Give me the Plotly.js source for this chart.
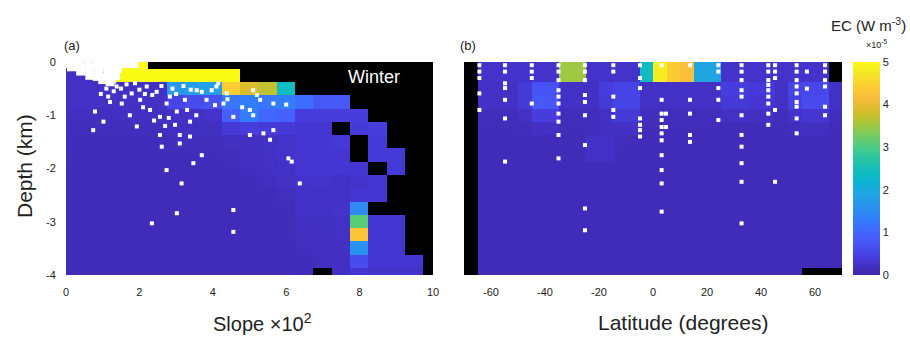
<!DOCTYPE html>
<html><head><meta charset="utf-8">
<script src="https://cdn.plot.ly/plotly-3.0.1.min.js"></script>
<style>html,body{margin:0;padding:0;background:#fff}#chart{width:910px;height:344px}</style>
</head><body><div id="chart"></div>
<script>
// ---- data ----
const slopeCenters = [0,0.5,1,1.5,2,2.5,3,3.5,4,4.5,5,5.5,6,6.5,7,7.5,8,8.5,9,9.5,10];
const elevCenters = [0,-0.25,-0.5,-0.75,-1,-1.25,-1.5,-1.75,-2,-2.25,-2.5,-2.75,-3,-3.25,-3.5,-3.75,-4];
const latCenters = [-67.5,-62.5,-57.5,-52.5,-47.5,-42.5,-37.5,-32.5,-27.5,-22.5,-17.5,-12.5,-7.5,-2.5,2.5,7.5,12.5,17.5,22.5,27.5,32.5,37.5,42.5,47.5,52.5,57.5,62.5,67.5];

// EC (x1e-5 W m^-3) binned by slope (columns) and depth (rows)
const ecSlope = [
 [0.2,0.2,5,5,5,null,null,null,null,null,null,null,null,null,null,null,null,null,null,null,null],
 [0.2,0.2,0.2,5,5,5,5,5,5,5,null,null,null,null,null,null,null,null,null,null,null],
 [0.2,0.2,0.2,0.2,0.2,0.2,1.7,1.8,1.8,4.4,3.9,3.7,2.4,null,null,null,null,null,null,null,null],
 [0.2,0.2,0.2,0.2,0.2,0.2,0.5,0.6,0.7,1.2,1.3,1.2,1.3,1.1,0.8,0.8,null,null,null,null,null],
 [0.16,0.16,0.16,0.18,0.18,0.18,0.2,0.2,0.25,0.9,1.3,1.0,0.9,0.4,0.4,0.4,0.4,null,null,null,null],
 [0.15,0.15,0.15,0.15,0.15,0.15,0.18,0.18,0.18,0.35,0.4,0.35,0.35,0.3,0.3,null,0.35,0.4,null,null,null],
 [0.14,0.14,0.14,0.14,0.14,0.14,0.15,0.15,0.15,0.18,0.18,0.2,0.25,0.3,0.3,0.35,null,0.35,null,null,null],
 [0.13,0.13,0.13,0.13,0.13,0.13,0.14,0.14,0.14,0.15,0.16,0.2,0.25,0.3,0.3,0.3,null,0.35,0.35,null,null],
 [0.13,0.13,0.13,0.13,0.13,0.13,0.13,0.13,0.14,0.14,0.16,0.2,0.22,0.3,0.3,0.3,0.3,null,0.35,null,null],
 [0.12,0.12,0.12,0.12,0.12,0.12,0.12,0.12,0.12,0.13,0.14,0.16,0.2,0.25,0.25,0.2,0.25,0.3,null,null,null],
 [0.12,0.12,0.12,0.12,0.12,0.12,0.12,0.12,0.12,0.12,0.13,0.14,0.16,0.22,0.2,0.2,0.3,0.3,null,null,null],
 [0.12,0.12,0.12,0.12,0.12,0.12,0.12,0.12,0.12,0.12,0.12,0.13,0.14,0.2,0.2,0.25,1.5,null,null,null,null],
 [0.12,0.12,0.12,0.12,0.12,0.12,0.12,0.12,0.12,0.12,0.12,0.12,0.13,0.18,0.18,0.2,3.1,0.3,0.3,null,null],
 [0.12,0.12,0.12,0.12,0.12,0.12,0.12,0.12,0.12,0.12,0.12,0.12,0.13,0.16,0.18,0.2,4.3,0.3,0.3,null,null],
 [0.12,0.12,0.12,0.12,0.12,0.12,0.12,0.12,0.12,0.12,0.12,0.12,0.12,0.16,0.16,0.18,1.6,0.3,0.3,null,null],
 [0.12,0.12,0.12,0.12,0.12,0.12,0.12,0.12,0.12,0.12,0.12,0.12,0.12,0.14,0.16,0.18,0.6,0.3,0.3,0.3,null],
 [0.12,0.12,0.12,0.12,0.12,0.12,0.12,0.12,0.12,0.12,0.12,0.12,0.12,0.14,null,0.18,0.3,0.25,0.25,0.25,null]
];

// EC binned by latitude (columns) and depth (rows)
const ecLat = [
 [null,0.25,0.25,0.25,0.25,0.25,0.25,3.5,3.5,0.25,0.25,0.25,0.25,2.4,4.8,4.4,4.2,1.9,1.9,0.25,0.25,0.25,0.25,0.25,0.25,0.25,0.25,null],
 [null,0.25,0.25,0.25,0.25,0.25,0.25,3.5,3.5,0.25,0.25,0.25,0.25,2.4,4.8,4.4,4.2,1.9,1.9,0.25,0.25,0.25,0.25,0.25,0.25,0.25,0.25,null],
 [null,0.2,0.2,0.2,0.35,0.7,0.7,0.2,0.2,0.2,0.4,0.5,0.5,0.2,0.2,0.2,0.2,0.2,0.2,0.4,0.4,0.35,0.35,0.2,0.5,0.55,0.55,0.2],
 [null,0.2,0.2,0.2,0.35,0.8,0.75,0.2,0.2,0.2,0.35,0.5,0.5,0.2,0.2,0.2,0.2,0.2,0.2,0.35,0.35,0.3,0.3,0.2,0.45,0.6,0.6,0.2],
 [null,0.15,0.15,0.15,0.2,0.4,0.4,0.15,0.15,0.15,0.2,0.35,0.35,0.15,0.15,0.15,0.15,0.15,0.15,0.2,0.2,0.18,0.18,0.15,0.25,0.3,0.3,0.15],
 [null,0.13,0.13,0.13,0.15,0.2,0.2,0.13,0.13,0.15,0.18,0.2,0.2,0.13,0.13,0.13,0.13,0.13,0.13,0.13,0.13,0.13,0.13,0.13,0.15,0.18,0.18,0.13],
 [null,0.12,0.12,0.12,0.13,0.13,0.12,0.12,0.13,0.22,0.22,0.15,0.13,0.12,0.12,0.12,0.12,0.12,0.12,0.12,0.12,0.12,0.12,0.12,0.12,0.13,0.13,0.12],
 [null,0.12,0.12,0.12,0.12,0.12,0.12,0.12,0.13,0.2,0.2,0.14,0.12,0.12,0.12,0.12,0.12,0.12,0.12,0.12,0.12,0.12,0.12,0.12,0.12,0.12,0.12,0.12],
 [null,0.12,0.12,0.12,0.12,0.12,0.12,0.12,0.12,0.14,0.14,0.12,0.12,0.12,0.12,0.12,0.12,0.12,0.12,0.12,0.12,0.12,0.12,0.12,0.12,0.12,0.12,0.12],
 [null,0.12,0.12,0.12,0.12,0.12,0.12,0.12,0.12,0.12,0.12,0.12,0.12,0.12,0.12,0.12,0.12,0.12,0.12,0.12,0.12,0.12,0.12,0.12,0.12,0.12,0.12,0.12],
 [null,0.12,0.12,0.12,0.12,0.12,0.12,0.12,0.12,0.12,0.12,0.12,0.12,0.12,0.12,0.12,0.12,0.12,0.12,0.12,0.12,0.12,0.12,0.12,0.12,0.12,0.12,0.12],
 [null,0.12,0.12,0.12,0.12,0.12,0.12,0.12,0.12,0.12,0.12,0.12,0.12,0.12,0.12,0.12,0.12,0.12,0.12,0.12,0.12,0.12,0.12,0.12,0.12,0.12,0.12,0.12],
 [null,0.12,0.12,0.12,0.12,0.12,0.12,0.12,0.12,0.12,0.12,0.12,0.12,0.12,0.12,0.12,0.12,0.12,0.12,0.12,0.12,0.12,0.12,0.12,0.12,0.12,0.12,0.12],
 [null,0.12,0.12,0.12,0.12,0.12,0.12,0.12,0.12,0.12,0.12,0.12,0.12,0.12,0.12,0.12,0.12,0.12,0.12,0.12,0.12,0.12,0.12,0.12,0.12,0.12,0.12,0.12],
 [null,0.12,0.12,0.12,0.12,0.12,0.12,0.12,0.12,0.12,0.12,0.12,0.12,0.12,0.12,0.12,0.12,0.12,0.12,0.12,0.12,0.12,0.12,0.12,0.12,0.12,0.12,0.12],
 [null,0.12,0.12,0.12,0.12,0.12,0.12,0.12,0.12,0.12,0.12,0.12,0.12,0.12,0.12,0.12,0.12,0.12,0.12,0.12,0.12,0.12,0.12,0.12,0.12,0.12,0.12,0.12],
 [null,0.12,0.12,0.12,0.12,0.12,0.12,0.12,0.12,0.12,0.12,0.12,0.12,0.12,0.12,0.12,0.12,0.12,0.12,0.12,0.12,0.12,0.12,0.12,0.12,null,null,null]
];

// observation points, panel (a): slope x100, elevation (km)
const obsSlope = [0.79,0.74,1.02,1.15,1.2,1.38,1.52,1.74,1.79,1.93,1.88,2.02,2.2,2.29,2.47,2.56,2.56,2.61,2.74,2.83,2.97,3.1,3.1,3.02,3.24,3.38,3.38,3.47,3.7,3.56,3.83,4.06,4.1,4.29,4.38,4.56,5.01,5.1,5.01,5.38,5.56,5.65,6.06,6.15,5.29,2.74,3.15,3.02,2.34,4.56,4.56,6.37,4.15,4.4,5.1,5.2,5.65,6.0,3.4,3.7,3.97,1.5,1.65,2.0,2.35,2.6,2.9,3.2,1.3,1.1,2.1,2.4,2.8,3.3,1.6,0.95,2.15,3.0,3.55,4.8,2.7];
const obsSlopeElev = [-0.93,-1.28,-1.12,-0.65,-0.75,-0.46,-0.78,-1.0,-0.59,-1.21,-0.4,-0.71,-0.46,-0.9,-0.56,-1.03,-1.37,-1.59,-0.78,-0.65,-1.18,-1.37,-1.53,-0.93,-0.71,-1.4,-1.12,-1.9,-1.75,-0.53,-0.71,-0.81,-0.46,-0.78,-0.59,-1.03,-0.9,-0.53,-1.37,-1.34,-1.46,-1.28,-1.81,-1.87,-0.71,-2.03,-2.28,-2.84,-3.03,-2.78,-3.19,-2.28,-0.4,-0.7,-1.0,-0.62,-0.78,-0.8,-0.52,-0.56,-0.53,-0.5,-0.42,-0.52,-0.62,-0.45,-0.5,-0.45,-0.55,-0.5,-0.85,-1.1,-1.05,-0.9,-0.65,-0.6,-0.6,-0.6,-1.0,-0.85,-1.2];
// densely sampled shelf points near the top-left corner
const shelfSlope = [0.1,0.35,0.6,0.85,1.1,1.35,1.6,1.85,0.15,0.4,0.65,0.9,1.15,1.4,0.4,0.65,0.9,1.15,1.35,0.65,0.85,1.05,1.25,1.0,1.2];
const shelfElev = [-0.03,-0.03,-0.03,-0.03,-0.03,-0.03,-0.03,-0.03,-0.09,-0.1,-0.1,-0.1,-0.1,-0.12,-0.17,-0.18,-0.2,-0.22,-0.25,-0.25,-0.27,-0.29,-0.32,-0.33,-0.37];

// observation points, panel (b): latitude, elevation (km)
const obsLat = [-64.3,-64.3,-64.3,-64.3,-64.3,
 -54.8,-54.8,-54.8,-54.8,-54.8,-54.8,-54.8,
 -44.9,-44.9,-44.9,-44.9,
 -35,-35,-35,-35,-35,-35,-35,-35,-35,-35,
 -25.2,-25.2,-25.2,-25.2,-25.2,-25.2,-25.2,-25.2,-25.2,
 -14.7,-14.7,-14.7,-14.7,-14.7,
 -4.8,-4.8,-4.8,-4.8,-4.8,-4.8,-4.8,
 3.2,3.2,3.2,3.2,3.2,3.2,3.2,3.2,3.2,3.2,3.2,4.8,4.8,
 13.7,13.7,13.7,13.7,13.7,
 24.2,24.2,24.2,24.2,24.2,
 32.8,32.8,32.8,32.8,32.8,32.8,32.8,32.8,32.8,32.8,32.8,
 42.7,42.7,42.7,42.7,42.7,42.7,42.7,42.7,42.7,
 45.2,45.2,45.2,45.2,45.2,
 53.2,53.2,53.2,53.2,53.2,53.2,53.2,53.2,53.2,
 57,57,
 63.7,63.7,63.7,63.7,63.7,63.7];
const obsLatElev = [-0.06,-0.18,-0.3,-0.59,-0.9,
 -0.06,-0.18,-0.4,-0.49,-0.71,-1.06,-1.87,
 -0.06,-0.18,-0.3,-0.78,
 -0.06,-0.18,-0.34,-0.53,-0.65,-0.78,-0.97,-1.12,-1.37,-1.81,
 -0.06,-0.18,-0.34,-0.62,-0.75,-1.0,-1.56,-2.75,-3.16,
 -0.06,-0.18,-0.65,-0.9,-1.03,
 -0.06,-0.3,-0.49,-1.06,-1.18,-1.28,-1.4,
 -0.06,-0.71,-0.97,-1.09,-1.22,-1.34,-1.47,-1.75,-2.03,-2.28,-2.81,-0.97,-1.22,
 -0.06,-0.71,-0.97,-1.37,-1.5,
 -0.06,-0.18,-0.49,-0.71,-1.09,
 -0.06,-0.18,-0.34,-0.53,-0.65,-1.0,-1.37,-1.59,-1.9,-2.25,-3.03,
 -0.06,-0.18,-0.34,-0.43,-0.53,-0.65,-0.78,-0.97,-1.18,
 -0.06,-0.18,-0.3,-0.9,-2.25,
 -0.06,-0.18,-0.34,-0.46,-0.59,-0.75,-0.84,-1.06,-1.34,
 -0.18,-0.5,
 -0.06,-0.18,-0.34,-0.46,-0.84,-1.0];

const cbTicks = [0,1,2,3,4,5];
const slopeTicks = [0,2,4,6,8,10];
const latTicks = [-60,-40,-20,0,20,40,60];
const latTickText = ['-60','-40','-20','0','20','40','60'];
const elevTicks = [0,-1,-2,-3,-4];
const elevTickText = ['0','-1','-2','-3','-4'];

// parula colour map
const parula = [
 [0,'rgb(62,38,168)'],[0.0635,'rgb(69,55,213)'],[0.127,'rgb(72,77,240)'],[0.19,'rgb(69,99,253)'],
 [0.254,'rgb(50,124,252)'],[0.317,'rgb(43,145,239)'],[0.381,'rgb(32,165,227)'],[0.444,'rgb(8,181,208)'],
 [0.508,'rgb(25,191,182)'],[0.571,'rgb(55,200,151)'],[0.635,'rgb(100,205,111)'],[0.698,'rgb(157,201,67)'],
 [0.762,'rgb(209,191,39)'],[0.825,'rgb(248,186,61)'],[0.889,'rgb(252,207,48)'],[0.952,'rgb(245,233,36)'],
 [1,'rgb(249,251,21)']
];

// ---- figure ----
const W = 910, H = 344;
const px = v => v / W, py = v => 1 - v / H;
const FONT = 'Liberation Sans, Arial, Helvetica, sans-serif';

const traces = [
 {type:'heatmap', x:slopeCenters, y:elevCenters, z:ecSlope, xaxis:'x', yaxis:'y',
  colorscale:parula, zmin:0, zmax:5, showscale:false, hoverongaps:false},
 {type:'heatmap', x:latCenters, y:elevCenters, z:ecLat, xaxis:'x2', yaxis:'y2',
  colorscale:parula, zmin:0, zmax:5, showscale:true,
  colorbar:{x:px(853), xanchor:'left', xpad:0, ypad:0, thickness:27, thicknessmode:'pixels',
    len:(275-62)/H, lenmode:'fraction', y:py(275), yanchor:'bottom', outlinewidth:0,
    tickvals:cbTicks, ticktext:cbTicks.map(String), ticks:'', tickfont:{family:FONT,size:11,color:'#222'}}},
 {type:'scatter', mode:'markers', x:shelfSlope, y:shelfElev, xaxis:'x', yaxis:'y',
  marker:{symbol:'square', size:9, color:'white', line:{width:0}}, hoverinfo:'skip'},
 {type:'scatter', mode:'markers', x:obsSlope, y:obsSlopeElev, xaxis:'x', yaxis:'y',
  marker:{symbol:'square', size:4, color:'white', line:{width:0}}},
 {type:'scatter', mode:'markers', x:obsLat, y:obsLatElev, xaxis:'x2', yaxis:'y2',
  marker:{symbol:'square', size:4, color:'white', line:{width:0}}}
];

const axBase = {showgrid:false, zeroline:false, showline:false, ticks:'outside', ticklen:7,
  tickcolor:'rgba(0,0,0,0)', tickfont:{family:FONT, size:11, color:'#222'}, fixedrange:true};

const ann = (x, y, text, size, extra) => Object.assign({xref:'paper', yref:'paper', x:px(x), y:py(y),
  xanchor:'center', yanchor:'middle', text:text, showarrow:false, font:{size:size}}, extra || {});

const layout = {
 width:W, height:H, margin:{l:0,r:0,t:0,b:0}, paper_bgcolor:'white', plot_bgcolor:'black',
 showlegend:false, font:{family:FONT, color:'#222'},
 xaxis:Object.assign({}, axBase, {domain:[px(66),px(433)], range:[0,10], tickvals:slopeTicks, anchor:'y'}),
 yaxis:Object.assign({}, axBase, {domain:[py(275),py(62)], range:[-4,0], tickvals:elevTicks, ticktext:elevTickText, anchor:'x'}),
 xaxis2:Object.assign({}, axBase, {domain:[px(464),px(842)], range:[-70,70], tickvals:latTicks, ticktext:latTickText, anchor:'y2'}),
 yaxis2:Object.assign({}, axBase, {domain:[py(275),py(62)], range:[-4,0], showticklabels:false, anchor:'x2'}),
 annotations:[
  ann(72, 45, '(a)', 13),
  ann(468, 45, '(b)', 13),
  ann(374, 77, 'Winter', 18, {font:{size:18, color:'white'}}),
  ann(24, 166, 'Depth (km)', 21, {textangle:-90}),
  ann(262, 322, 'Slope ×10<sup>2</sup>', 20),
  ann(683, 322, 'Latitude (degrees)', 21),
  ann(908, 24, 'EC (W m<sup>-3</sup>)', 15, {xanchor:'right'}),
  ann(876, 44, '×10<sup>-5</sup>', 9)
 ]
};

Plotly.newPlot('chart', traces, layout, {displayModeBar:false, staticPlot:true});
</script>
</body></html>
